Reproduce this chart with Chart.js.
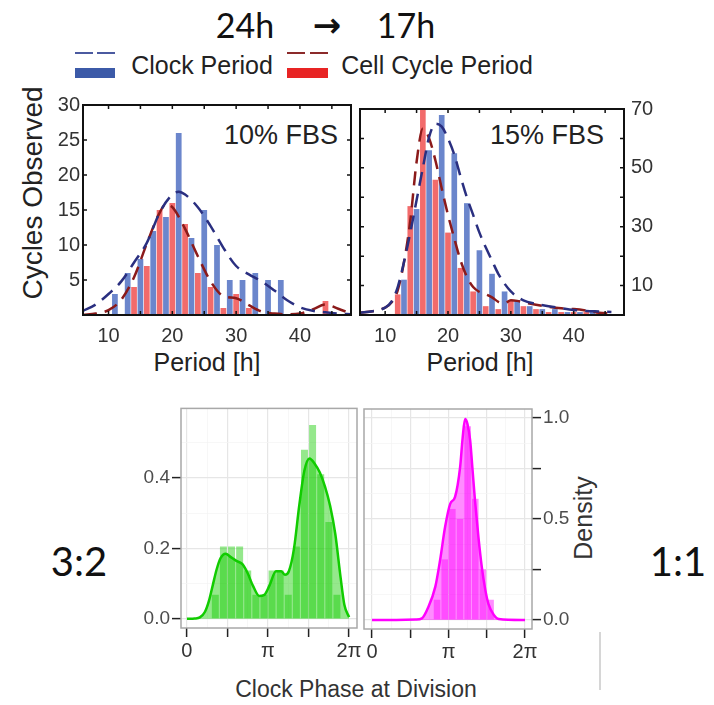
<!DOCTYPE html>
<html lang="en">
<head>
<meta charset="UTF-8">
<title>Clock and cell cycle periods</title>
<script src="https://cdn.jsdelivr.net/npm/chart.js"></script>
<style>
  body { margin: 0; width: 714px; height: 705px; position: relative; overflow: hidden; background: #fff;
         font-family: "Liberation Sans", Arial, sans-serif; color: #222; }
  canvas { position: absolute; }
  .c { position: absolute; transform: translate(-50%, -50%); white-space: nowrap; line-height: 1; }
  .rot { transform: translate(-50%, -50%) rotate(-90deg); }
  .big { font-family: Lato, "Noto Sans", sans-serif; color: #111; }
  .box { position: absolute; }
</style>
</head>
<body>
  <div class="c big" style="left:245px;top:25px;font-size:34px">24h</div>
  <div class="c big" style="left:327px;top:25px;font-size:34px;font-family:'DejaVu Sans';font-weight:bold">→</div>
  <div class="c big" style="left:406px;top:25px;font-size:34px">17h</div>

  <div class="box" style="left:75px;top:52px;width:18px;height:2px;background:#4b5aa0"></div>
  <div class="box" style="left:97px;top:52px;width:18px;height:2px;background:#4b5aa0"></div>
  <div class="box" style="left:75px;top:68px;width:40px;height:10px;background:#3c5aa8"></div>
  <div class="c" style="left:202px;top:65px;font-size:25px">Clock Period</div>
  <div class="box" style="left:287px;top:52px;width:18px;height:2px;background:#8b2a2a"></div>
  <div class="box" style="left:310px;top:52px;width:18px;height:2px;background:#8b2a2a"></div>
  <div class="box" style="left:287px;top:68px;width:41px;height:10px;background:#e82424"></div>
  <div class="c" style="left:437px;top:65px;font-size:25px">Cell Cycle Period</div>

  <div class="c rot" style="left:33px;top:193px;font-size:28px">Cycles Observed</div>
  <div class="c" style="left:281px;top:135px;font-size:27px">10% FBS</div>
  <div class="c" style="left:547px;top:135px;font-size:27px">15% FBS</div>
  <div class="c" style="left:207px;top:362px;font-size:25px">Period [h]</div>
  <div class="c" style="left:480px;top:362px;font-size:25px">Period [h]</div>

  <div class="c big" style="left:79px;top:561px;font-size:40px">3:2</div>
  <div class="c big" style="left:678px;top:561px;font-size:40px">1:1</div>
  <div class="c" style="left:356px;top:689px;font-size:23px;color:#333">Clock Phase at Division</div>
  <div class="c rot" style="left:583px;top:518px;font-size:25px;color:#333">Density</div>
  <div class="box" style="left:599px;top:632px;width:2px;height:58px;background:#d6d6d6"></div>

  <canvas id="fbs10" width="365" height="285" style="left:0px;top:90px"></canvas>
  <canvas id="fbs15" width="359" height="285" style="left:355px;top:90px"></canvas>
  <canvas id="phase32" width="265" height="280" style="left:100px;top:395px"></canvas>
  <canvas id="phase11" width="250" height="280" style="left:360px;top:395px"></canvas>

<script>
  // histogram bins for the period panels (bin centres, hours)
  const periodBins = [10.5, 12.5, 14.5, 16.5, 18.5, 20.5, 22.5, 24.5, 26.5, 28.5, 30.5, 32.5, 34.5, 36.5, 38.5, 40.5, 42.5, 44.5, 46.5];
  const cell10  = [0, 0, 4, 7, 15, 16, 13, 6, 4, 1, 3, 1, 0, 0, 0, 0, 0, 2, 0];
  const clock10 = [3, 6, 8, 12, 14, 26, 11, 15, 10, 5, 5, 6, 5, 5, 0, 0, 0, 0, 0];
  const cell15  = [0, 7, 37, 70, 46, 28, 16, 8, 3, 2, 5, 3, 2, 1, 1, 1, 1, 1, 0];
  const clock15 = [0, 12, 36, 56, 68, 55, 38, 22, 14, 8, 5, 3, 2, 2, 1, 1, 1, 0, 0];

  // fitted distributions (dashed)
  const clockFitH10 = [6, 8, 10, 12, 14, 16, 18, 20, 21, 22, 24, 26, 28, 30, 32, 34, 36, 38, 40, 42, 44, 46, 48];
  const clockFit10  = [0.6, 1.5, 3.0, 4.8, 7.5, 10.3, 14.6, 17.2, 17.6, 17.2, 15.4, 12.7, 9.6, 7.0, 5.8, 4.8, 3.5, 2.1, 1.1, 0.6, 0.4, 0.2, 0.1];
  const cellFitH10  = [6, 8, 10, 12, 14, 16, 18, 19, 20, 22, 24, 26, 28, 30, 32, 34, 36, 38, 40, 42, 44, 46, 48];
  const cellFit10   = [0, 0.2, 0.7, 2.2, 5.4, 10.2, 14.6, 15.8, 15.4, 12.3, 8.4, 4.8, 2.7, 2.4, 1.4, 0.5, 0.2, 0.1, 0.2, 0.8, 1.5, 0.9, 0.2];

  const clockFitH15 = [6, 8, 10, 11, 12, 13, 14, 15, 16, 17, 18, 19, 20, 21, 22, 23, 24, 25, 26, 27, 28, 30, 32, 34, 36, 38, 40, 42, 44, 46];
  const clockFit15  = [0.8, 1.3, 2.5, 4.5, 9.5, 18, 28, 39, 50, 60.5, 65, 64, 60, 54.5, 47, 40, 34, 28, 23, 18.5, 14, 8, 5, 3.8, 3, 2.3, 1.7, 1.4, 1.2, 1.0];
  const cellFitH15  = [6, 8, 10, 11, 12, 13, 14, 15, 16, 17, 18, 19, 20, 21, 22, 23, 24, 25, 26, 27, 28, 29, 30, 31, 32, 34, 36, 38, 40, 42, 44, 46];
  const cellFit15   = [0.8, 1.3, 2.5, 4.2, 8.4, 18, 32, 52, 63.4, 60, 52.5, 43, 34, 26, 18.5, 13, 9.5, 7.8, 7, 6, 4.5, 4, 5, 4.8, 4.3, 3.5, 2.8, 2.3, 2, 1.5, 0.8, 0.5];

  // clock phase at division (radians)
  const phaseBins = [0.157, 0.471, 0.785, 1.100, 1.414, 1.728, 2.042, 2.356, 2.670, 2.985, 3.299, 3.613, 3.927, 4.241, 4.555, 4.869, 5.184, 5.498, 5.812, 6.126];
  const hist32 = [0, 0, 0, 0.068, 0.205, 0.205, 0.205, 0.137, 0.068, 0.068, 0.137, 0.137, 0.068, 0.205, 0.48, 0.55, 0.41, 0.275, 0.068, 0];
  const hist11 = [0, 0, 0, 0, 0, 0, 0, 0, 0.1, 0.3, 0.55, 0.5, 0.96, 0.6, 0.25, 0.1, 0, 0, 0, 0];

  const densPhase32 = [0, 0.3, 0.5, 0.7, 0.85, 1.0, 1.15, 1.3, 1.5, 1.7, 1.9, 2.15, 2.35, 2.55, 2.8, 3.0, 3.2, 3.45, 3.65, 3.8, 3.95, 4.15, 4.35, 4.55, 4.75, 4.95, 5.15, 5.35, 5.55, 5.75, 5.95, 6.1, 6.283];
  const dens32      = [0, 0.001, 0.004, 0.02, 0.05, 0.095, 0.14, 0.172, 0.185, 0.175, 0.165, 0.155, 0.13, 0.095, 0.065, 0.068, 0.095, 0.135, 0.135, 0.125, 0.135, 0.2, 0.32, 0.42, 0.455, 0.44, 0.415, 0.375, 0.32, 0.24, 0.12, 0.04, 0.005];
  const densPhase11 = [0, 1.0, 1.8, 2.05, 2.3, 2.6, 2.8, 3.0, 3.21, 3.41, 3.62, 3.72, 3.82, 3.92, 4.03, 4.13, 4.23, 4.37, 4.51, 4.65, 4.78, 5.0, 5.2, 6.283];
  const dens11      = [0, 0, 0.002, 0.008, 0.06, 0.165, 0.3, 0.46, 0.575, 0.61, 0.76, 0.9, 0.995, 0.97, 0.89, 0.74, 0.59, 0.41, 0.26, 0.15, 0.08, 0.025, 0.005, 0];

  const periodTicks = [10, 20, 30, 40];
  const phaseTickLabels = ['0', '', '', '', 'π', '', '', '', '2π'];

  Chart.defaults.font.family = '"Liberation Sans", Arial, sans-serif';
  Chart.defaults.animation = false;

  const pts = (xs, ys) => xs.map((x, i) => ({ x: x, y: ys[i] }));

  // box around plot area, with optional inward ticks
  function frame(color, width, tickLen, xTicks, yTicks) {
    return {
      id: 'frame',
      afterDraw(chart) {
        const { ctx, chartArea: a } = chart;
        const x = chart.scales.x, y = chart.scales.y;
        ctx.save();
        ctx.strokeStyle = color;
        ctx.lineWidth = width;
        ctx.strokeRect(a.left, a.top, a.right - a.left, a.bottom - a.top);
        if (tickLen) {
          ctx.lineWidth = 1.5;
          ctx.beginPath();
          xTicks.forEach(v => {
            const p = x.getPixelForValue(v);
            ctx.moveTo(p, a.bottom); ctx.lineTo(p, a.bottom - tickLen);
            ctx.moveTo(p, a.top); ctx.lineTo(p, a.top + tickLen);
          });
          yTicks.forEach(v => {
            const p = y.getPixelForValue(v);
            ctx.moveTo(a.left, p); ctx.lineTo(a.left + tickLen, p);
            ctx.moveTo(a.right, p); ctx.lineTo(a.right - tickLen, p);
          });
          ctx.stroke();
        }
        ctx.restore();
      }
    };
  }

  function periodChart(id, cell, clock, cellFitH, cellFit, clockFitH, clockFit, yMax, yLabels, yMinor, yRight) {
    new Chart(document.getElementById(id), {
      type: 'bar',
      data: {
        datasets: [
          { type: 'line', data: pts(clockFitH, clockFit), borderColor: '#2a2f80', borderWidth: 2.5, borderDash: [14, 8],
            pointRadius: 0, cubicInterpolationMode: 'monotone', order: 0 },
          { type: 'line', data: pts(cellFitH, cellFit), borderColor: '#8b1a1a', borderWidth: 2.5, borderDash: [14, 8],
            pointRadius: 0, cubicInterpolationMode: 'monotone', order: 0 },
          { data: pts(periodBins, cell), backgroundColor: '#f26b6b', barPercentage: 0.9, categoryPercentage: 1, order: 1 },
          { data: pts(periodBins, clock), backgroundColor: '#6b86cc', barPercentage: 0.9, categoryPercentage: 1, order: 1 }
        ]
      },
      options: {
        responsive: false,
        devicePixelRatio: 1,
        layout: { padding: yRight ? { top: 15, left: 5 } : { top: 15, right: 14 } },
        plugins: { legend: { display: false }, tooltip: { enabled: false } },
        scales: {
          x: {
            type: 'linear', min: 6, max: 48, offset: false,
            grid: { display: false, drawTicks: false, offset: false }, border: { display: false },
            afterBuildTicks: s => { s.ticks = periodTicks.map(v => ({ value: v })); },
            afterFit: s => { s.height = 60; },
            ticks: { color: '#333', font: { size: 20 }, padding: 9, maxRotation: 0, autoSkip: false }
          },
          y: {
            position: yRight ? 'right' : 'left',
            min: 0, max: yMax,
            grid: { display: false, drawTicks: false }, border: { display: false },
            afterBuildTicks: s => { s.ticks = yLabels.map(v => ({ value: v })); },
            afterFit: s => { s.width = yRight ? 90 : 83; },
            ticks: { color: '#333', font: { size: 20 }, padding: yRight ? 7 : 3, autoSkip: false }
          }
        }
      },
      plugins: [frame('#111', 2, 4, [10, 15, 20, 25, 30, 35, 40, 45], yMinor)]
    });
  }

  periodChart('fbs10', cell10, clock10, cellFitH10, cellFit10, clockFitH10, clockFit10, 30,
    [5, 10, 15, 20, 25, 30], [5, 10, 15, 20, 25], false);
  periodChart('fbs15', cell15, clock15, cellFitH15, cellFit15, clockFitH15, clockFit15, 70,
    [10, 30, 50, 70], [10, 20, 30, 40, 50, 60], true);

  function phaseChart(id, hist, densX, dens, line, fill, xMin, xMax, yMin, yMax, yTicks, yLabels, yMajorEvery, yRight, pad, axisW) {
    const q = Math.PI / 4;
    new Chart(document.getElementById(id), {
      type: 'bar',
      data: {
        datasets: [
          { type: 'line', data: pts(densX, dens), borderColor: line, borderWidth: 2.5, backgroundColor: fill,
            fill: 'origin', pointRadius: 0, cubicInterpolationMode: 'monotone', order: 0 },
          { data: pts(phaseBins, hist), backgroundColor: fill, barPercentage: 0.86, categoryPercentage: 1, order: 1 }
        ]
      },
      options: {
        responsive: false,
        devicePixelRatio: 1,
        layout: { padding: pad },
        plugins: { legend: { display: false }, tooltip: { enabled: false } },
        scales: {
          x: {
            type: 'linear', min: xMin, max: xMax, offset: false,
            grid: {
              offset: false, drawTicks: true, tickLength: 9, tickWidth: 1.5,
              color: c => c.index % 2 === 0 ? '#e6e6e6' : '#f4f4f4',
              lineWidth: c => c.index % 2 === 0 ? 1.2 : 0.7,
              tickColor: c => c.index % 2 === 0 ? '#222' : 'rgba(0,0,0,0)'
            },
            border: { display: false },
            afterBuildTicks: s => { s.ticks = phaseTickLabels.map((l, i) => ({ value: i * q })); },
            afterFit: s => { s.height = pad.bottomAxis; },
            ticks: { color: '#333', font: { size: 20 }, padding: 2, maxRotation: 0, autoSkip: false,
                     callback: (v, i) => phaseTickLabels[i] }
          },
          y: {
            position: yRight ? 'right' : 'left',
            min: yMin, max: yMax,
            grid: {
              drawTicks: true, tickLength: 9, tickWidth: 1.5,
              color: c => c.index % yMajorEvery === 0 ? '#e6e6e6' : '#f4f4f4',
              lineWidth: c => c.index % yMajorEvery === 0 ? 1.2 : 0.7,
              tickColor: c => c.index % yMajorEvery === 0 ? '#222' : 'rgba(0,0,0,0)'
            },
            border: { display: false },
            afterBuildTicks: s => { s.ticks = yTicks.map(v => ({ value: v })); },
            afterFit: s => { s.width = axisW; },
            ticks: { color: '#4d4d4d', font: { size: 19 }, padding: 2, autoSkip: false,
                     callback: (v, i) => yLabels[i] }
          }
        }
      },
      plugins: [frame('#a8a8a8', 1.5, 0)]
    });
  }

  phaseChart('phase32', hist32, densPhase32, dens32, '#11cc00', 'rgba(20,205,0,0.45)',
    -0.23, 6.59, -0.026, 0.597,
    [0, 0.1, 0.2, 0.3, 0.4, 0.5], ['0.0', '', '0.2', '', '0.4', ''], 2, false,
    { top: 12, right: 8, left: 0, bottom: 0, bottomAxis: 47 }, 81);
  phaseChart('phase11', hist11, densPhase11, dens11, '#ff00ff', 'rgba(255,0,255,0.45)',
    -0.33, 6.57, -0.045, 1.045,
    [0, 0.125, 0.25, 0.375, 0.5, 0.625, 0.75, 0.875, 1.0], ['0.0', '', '', '', '0.5', '', '', '', '1.0'], 2, true,
    { top: 14, right: 0, left: 4, bottom: 0, bottomAxis: 46 }, 78);
</script>
</body>
</html>
